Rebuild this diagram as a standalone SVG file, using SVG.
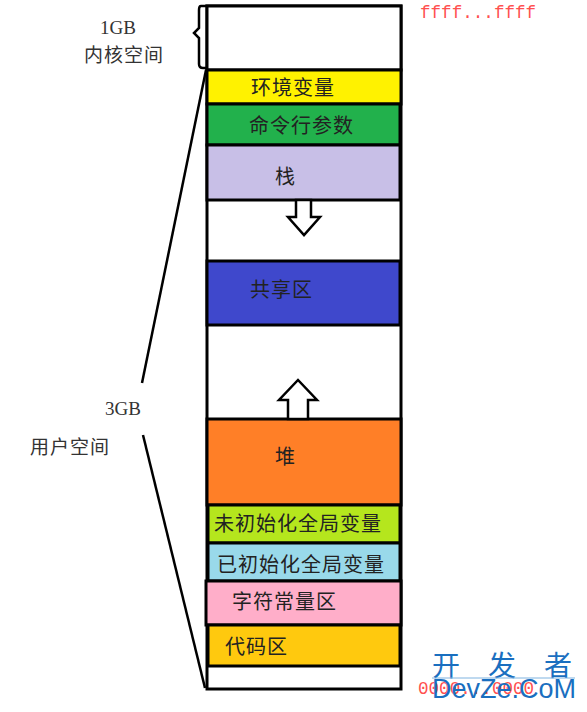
<svg xmlns="http://www.w3.org/2000/svg" width="587" height="712" viewBox="0 0 587 712">
<style>
.seg{stroke:#000;stroke-width:3}
.lbl{font-family:"Noto Sans CJK SC","Noto Sans CJK JP",sans-serif;font-size:20px;fill:#222;dominant-baseline:central;letter-spacing:1px}
.side{font-family:"Liberation Serif","Noto Sans CJK SC",serif;font-size:19px;fill:#333;dominant-baseline:central}
.sidecjk{font-family:"Noto Sans CJK SC",sans-serif;font-size:19px;fill:#333;dominant-baseline:central;letter-spacing:1px}
.addr{font-family:"Liberation Mono",monospace;font-size:17.6px;fill:#ff5050}
.arrow{fill:#fff;stroke:#000;stroke-width:2.5;stroke-linejoin:miter}
.guide{fill:none;stroke:#000;stroke-width:2.5}
.wm{font-family:"Noto Sans CJK SC",sans-serif;font-size:28px;fill:#1a6fc0;dominant-baseline:central}
</style>
<rect width="587" height="712" fill="#fff"/>
<g id="memory">
<rect x="207" y="6" width="194" height="683" fill="#fff" stroke="#000" stroke-width="3"/>
</g>
<g id="kernel"><rect x="207" y="6" width="194" height="64" fill="#fff" class="seg"/></g>
<g id="env"><rect x="207" y="70" width="194" height="34" fill="#fff200" class="seg"/><text class="lbl" x="251" y="86">环境变量</text></g>
<g id="args"><rect x="207" y="104" width="193" height="41" fill="#22b14c" class="seg"/><text class="lbl" x="249" y="124">命令行参数</text></g>
<g id="stack"><rect x="207" y="145" width="193" height="55" fill="#c8bfe7" class="seg"/><text class="lbl" x="275" y="175">栈</text></g>
<g id="shared"><rect x="207" y="261" width="193" height="64" fill="#3f48cc" class="seg"/><text class="lbl" x="250" y="288">共享区</text></g>
<g id="heap"><rect x="207" y="419" width="194" height="86" fill="#ff7f27" class="seg"/><text class="lbl" x="275" y="455">堆</text></g>
<g id="bss"><rect x="208" y="505" width="192" height="38" fill="#b5e61d" class="seg"/><text class="lbl" x="214" y="522">未初始化全局变量</text></g>
<g id="data"><rect x="208" y="543" width="192" height="38" fill="#99d9ea" class="seg"/><text class="lbl" x="217" y="563">已初始化全局变量</text></g>
<g id="rodata"><rect x="206" y="581" width="195" height="44" fill="#ffaec9" class="seg"/><text class="lbl" x="232" y="600">字符常量区</text></g>
<g id="text"><rect x="208" y="625" width="192" height="41" fill="#ffc90e" class="seg"/><text class="lbl" x="225" y="645">代码区</text></g>
<g id="connectors">
<path class="arrow" d="M296 200 V217 H288 L304 235 L320 217 H311 V200 Z"/>
<path class="arrow" d="M288 419 V400 H279 L298 380 L317 400 H308 V419 Z"/>
<path class="guide" d="M206 6 H201 Q199 6 199 10 V28 L194 33 L199 38 V64 Q199 68 203 68 H206"/>
<path class="guide" d="M206 70 L142 383"/>
<path class="guide" d="M143 435 L205 688"/>
</g>
<g id="labels">
<text class="side" x="118" y="27" text-anchor="middle">1GB</text>
<text class="sidecjk" x="84" y="53">内核空间</text>
<text class="side" x="123" y="408" text-anchor="middle">3GB</text>
<text class="sidecjk" x="30" y="445">用户空间</text>
<text class="addr" x="420" y="18">ffff...ffff</text>
<text class="addr" x="418" y="694">0000...0000</text>
</g>
<g id="watermark">
<text class="wm" x="432" y="664">开</text>
<text class="wm" x="488" y="664">发</text>
<text class="wm" x="544" y="664">者</text>
<line x1="432" y1="678" x2="575" y2="678" stroke="#7fb3e0" stroke-width="1"/>
<text x="432" y="698" font-family="Liberation Sans,sans-serif" font-size="27" fill="#1a6fc0">DevZe.CoM</text>
</g>
</svg>
